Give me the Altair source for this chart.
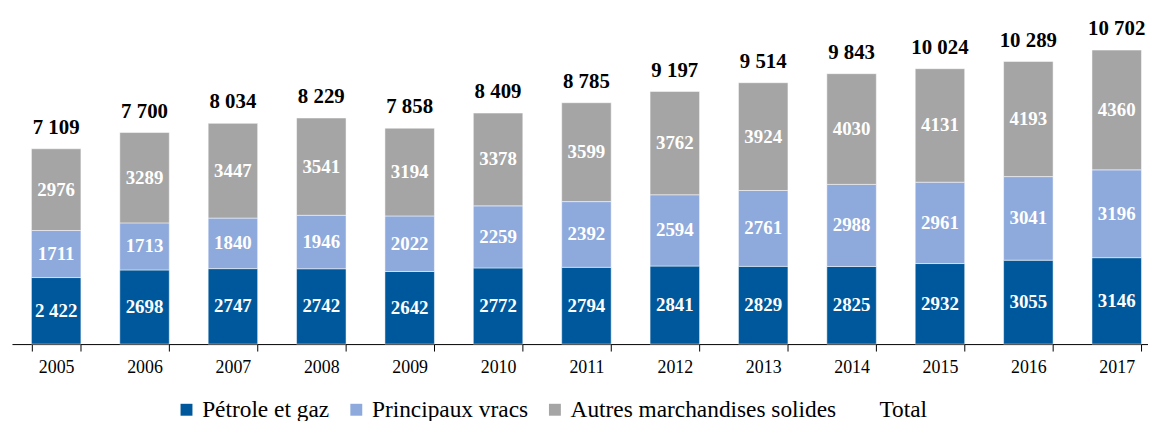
import altair as alt
import pandas as pd

years = ["2005", "2006", "2007", "2008", "2009", "2010", "2011", "2012", "2013", "2014", "2015", "2016", "2017"]
petrole = [2422, 2698, 2747, 2742, 2642, 2772, 2794, 2841, 2829, 2825, 2932, 3055, 3146]
vracs = [1711, 1713, 1840, 1946, 2022, 2259, 2392, 2594, 2761, 2988, 2961, 3041, 3196]
autres = [2976, 3289, 3447, 3541, 3194, 3378, 3599, 3762, 3924, 4030, 4131, 4193, 4360]
totals = [7109, 7700, 8034, 8229, 7858, 8409, 8785, 9197, 9514, 9843, 10024, 10289, 10702]
petrole_labels = ["2 422", "2698", "2747", "2742", "2642", "2772", "2794", "2841", "2829", "2825", "2932", "3055", "3146"]
total_labels = ["7 109", "7 700", "8 034", "8 229", "7 858", "8 409", "8 785", "9 197", "9 514", "9 843", "10 024", "10 289", "10 702"]

series_names = ["Pétrole et gaz", "Principaux vracs", "Autres marchandises solides", "Total"]
colors = ["#00589C", "#8EA9DB", "#A5A5A5", "#FFFFFF"]

rows = []
for i, y in enumerate(years):
    base = 0
    for k, (name, vals) in enumerate(zip(series_names[:3], [petrole, vracs, autres])):
        v = vals[i]
        lab = petrole_labels[i] if k == 0 else str(v)
        rows.append({"year": y, "series": name, "order": k, "y0": base, "y1": base + v,
                     "mid": base + v / 2, "label": lab})
        base += v
df = pd.DataFrame(rows)
tot = pd.DataFrame({"year": years, "total": totals, "label": total_labels})

FONT = "Liberation Serif"
xenc = alt.X("year:N", sort=years,
             scale=alt.Scale(range=[0, 1157], paddingInner=0.44, paddingOuter=0.22),
             axis=alt.Axis(title=None, labelAngle=0, labelFont=FONT, labelFontSize=18,
                           labelColor="black", domainColor="black", tickColor="black",
                           tickSize=7, tickBand="extent", labelPadding=8, grid=False))
yscale = alt.Scale(domain=[0, 12000], nice=False)

bars = alt.Chart(df).mark_bar(stroke="white", strokeWidth=0.5).encode(
    x=xenc,
    y=alt.Y("y0:Q", scale=yscale, axis=None),
    y2="y1:Q",
    color=alt.Color("series:N", scale=alt.Scale(domain=series_names, range=colors),
                    legend=alt.Legend(title=None, orient="none", direction="horizontal",
                                      legendX=164, legendY=386, symbolType="square",
                                      symbolSize=144, symbolStrokeWidth=0,
                                      labelFont=FONT, labelFontSize=23.5, labelColor="black",
                                      labelOffset=4, columnPadding=15, padding=0,
                                      labelLimit=0)),
)

seg_text = alt.Chart(df).mark_text(font=FONT, fontSize=19, fontWeight="bold",
                                   color="white", baseline="middle").encode(
    x=alt.X("year:N", sort=years),
    y=alt.Y("mid:Q", scale=yscale),
    text="label:N",
)

tot_text = alt.Chart(tot).mark_text(font=FONT, fontSize=21, fontWeight="bold",
                                    color="black", baseline="alphabetic", dy=-15).encode(
    x=alt.X("year:N", sort=years),
    y=alt.Y("total:Q", scale=yscale),
    text="label:N",
)

chart = alt.layer(bars, seg_text, tot_text).properties(
    width=1144, height=332,
    autosize=alt.AutoSizeParams(type="none"),
    padding={"left": 4, "top": 5, "right": 0, "bottom": 76},
).configure_view(stroke=None)

chart.save("out.html", embed_options={"renderer": "svg", "actions": False})
